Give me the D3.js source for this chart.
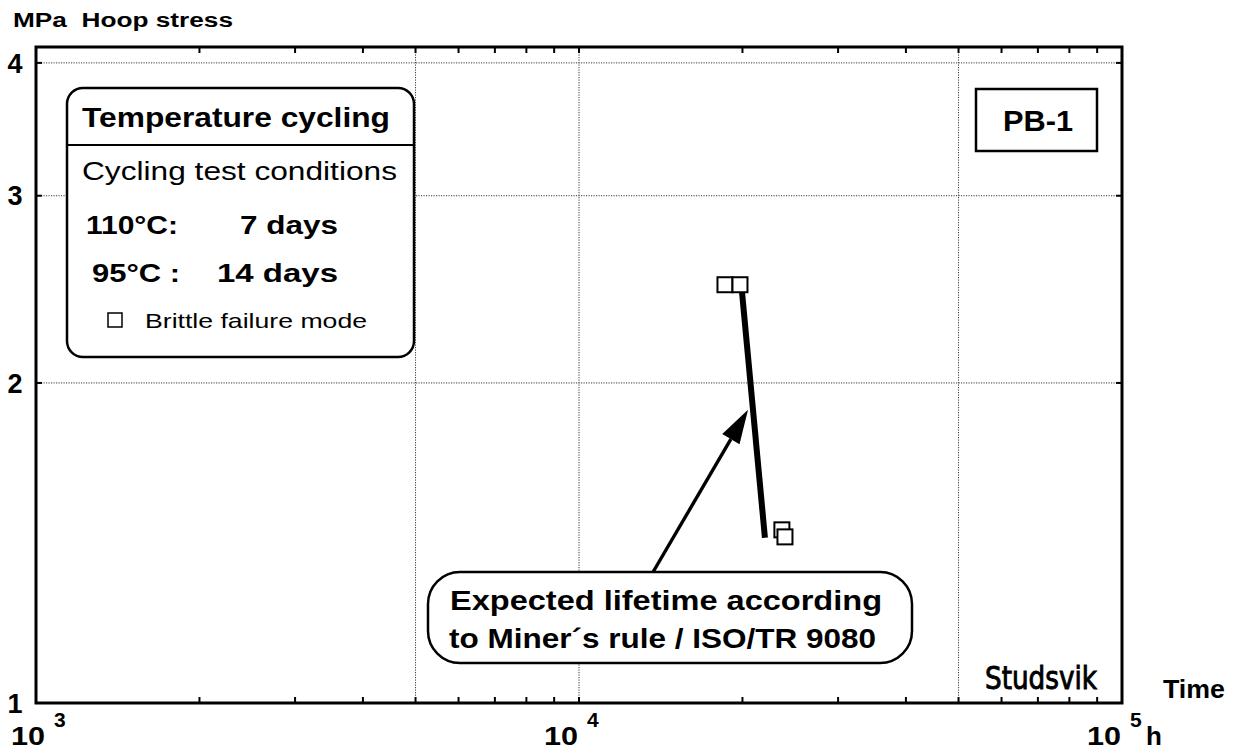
<!DOCTYPE html>
<html>
<head>
<meta charset="utf-8">
<script src="https://cdn.jsdelivr.net/npm/d3@7"></script>
<style>
  html, body { margin: 0; padding: 0; background: #fff; }
  svg { display: block; font-family: "Liberation Sans", Arial, sans-serif; }
</style>
</head>
<body>
<svg id="chart" width="1241" height="753"></svg>
<script>
// ---- Data -------------------------------------------------------------
// Brittle failures under temperature cycling (time in h, hoop stress in MPa)
const failureTimes    = [18570, 19790, 23640, 23950];
const failureStresses = [2.474, 2.474, 1.455, 1.433];

// Expected lifetime line (Miner's rule / ISO/TR 9080)
const lifetimeTimes    = [19960, 22000];
const lifetimeStresses = [2.436, 1.430];

// Arrow from the callout to the lifetime line
const arrowTimes    = [13690, 20480];
const arrowStresses = [1.328, 1.887];

// Axes
const yTickValues   = [1, 2, 3, 4];
const yTickLabels   = ["1", "2", "3", "4"];
const yGridValues   = [2, 3, 4];
const xDecades      = [1e3, 1e4, 1e5];
const xDecadeExps   = ["3", "4", "5"];
const xGridValues   = [5e3, 1e4, 5e4];
const xMinorTicks   = [2e3, 3e3, 4e3, 5e3, 6e3, 7e3, 8e3, 9e3, 1e4,
                       2e4, 3e4, 4e4, 5e4, 6e4, 7e4, 8e4, 9e4];

// ---- Setup ------------------------------------------------------------
const svg = d3.select("#chart");
const L = 36, R = 1122, T = 47, B = 703;

const x = d3.scaleLog().domain([1e3, 1e5]).range([L, R]);
const y = d3.scaleLog().domain([1, 4.14]).range([B, T]);

function txt(g, s, tx, ty, size, weight, len) {
  const t = g.append("text").attr("x", tx).attr("y", ty).attr("font-size", size)
    .attr("font-weight", weight).text(s);
  if (len) t.attr("textLength", len).attr("lengthAdjust", "spacingAndGlyphs");
  return t;
}

// Gridlines (dotted)
const grid = svg.append("g").attr("stroke", "#3a3a3a").attr("stroke-width", 1)
  .attr("stroke-dasharray", "1.2 1.3");
grid.selectAll("line.h").data(yGridValues).join("line")
  .attr("x1", L).attr("x2", R).attr("y1", d => y(d)).attr("y2", d => y(d));
grid.selectAll("line.v").data(xGridValues).join("line")
  .attr("x1", d => x(d)).attr("x2", d => x(d)).attr("y1", T).attr("y2", B);

// Inward ticks on all four sides
const ticks = svg.append("g").attr("stroke", "#000").attr("stroke-width", 2);
const tl = 6;
ticks.selectAll("line.xb").data(xMinorTicks).join("line")
  .attr("x1", d => x(d)).attr("x2", d => x(d)).attr("y1", B).attr("y2", B - tl);
ticks.selectAll("line.xt").data(xMinorTicks).join("line")
  .attr("x1", d => x(d)).attr("x2", d => x(d)).attr("y1", T).attr("y2", T + tl);
ticks.selectAll("line.yl").data(yGridValues).join("line")
  .attr("x1", L).attr("x2", L + tl).attr("y1", d => y(d)).attr("y2", d => y(d));
ticks.selectAll("line.yr").data(yGridValues).join("line")
  .attr("x1", R).attr("x2", R - tl).attr("y1", d => y(d)).attr("y2", d => y(d));

// Plot frame
svg.append("rect").attr("x", L).attr("y", T).attr("width", R - L).attr("height", B - T)
  .attr("fill", "none").attr("stroke", "#000").attr("stroke-width", 3);

// Y tick labels
svg.selectAll("text.ylab").data(yTickValues).join("text")
  .attr("x", 15).attr("y", d => Math.max(y(d), 53))
  .attr("dy", "0.36em").attr("text-anchor", "middle")
  .attr("font-size", 27).attr("font-weight", "bold")
  .text((d, i) => yTickLabels[i]);

// X tick labels: 10 with superscript exponent
xDecades.forEach((d, i) => {
  const cx = Math.max(x(d), 46);
  txt(svg, "10", cx - 35, 745, 26, "bold", 34);
  txt(svg, xDecadeExps[i], cx + 8, 727, 21, "bold");
});
txt(svg, "h", 1146, 745, 26, "bold");
txt(svg, "Time", 1163, 698, 25, "bold", 62);

// Y axis title
txt(svg, "MPa\u00A0 Hoop stress", 13, 27, 20, "bold", 220);

// Legend box
const lg = svg.append("g");
lg.append("rect").attr("x", 67).attr("y", 88).attr("width", 347).attr("height", 269)
  .attr("rx", 16).attr("fill", "#fff").attr("stroke", "#000").attr("stroke-width", 2.5);
lg.append("line").attr("x1", 67).attr("x2", 414).attr("y1", 145).attr("y2", 145)
  .attr("stroke", "#000").attr("stroke-width", 2);
txt(lg, "Temperature cycling", 82, 127, 28, "bold", 308);
txt(lg, "Cycling test conditions", 82, 180, 26, "normal", 315);
txt(lg, "110°C:", 86, 234, 26, "bold", 92);
txt(lg, "7 days", 240, 234, 26, "bold", 98);
txt(lg, "95°C :", 92, 282, 26, "bold", 88);
txt(lg, "14 days", 217, 282, 26, "bold", 121);
lg.append("rect").attr("x", 108).attr("y", 313).attr("width", 14).attr("height", 14)
  .attr("fill", "#fff").attr("stroke", "#000").attr("stroke-width", 1.5);
txt(lg, "Brittle failure mode", 145, 328, 21, "normal", 222);

// PB-1 box
svg.append("rect").attr("x", 976).attr("y", 89).attr("width", 121).attr("height", 62)
  .attr("fill", "#fff").attr("stroke", "#000").attr("stroke-width", 2.5);
txt(svg, "PB-1", 1003, 131, 30, "bold", 70);

// Studsvik mark
txt(svg, "Studsvik", 985, 689, 32, "bold", 112)
  .attr("font-family", "'Liberation Sans Narrow', 'DejaVu Sans Condensed', sans-serif")
  .attr("font-weight", "normal").attr("stroke", "#000").attr("stroke-width", 0.9);

// Expected lifetime line
svg.append("line")
  .attr("x1", x(lifetimeTimes[0])).attr("y1", y(lifetimeStresses[0]))
  .attr("x2", x(lifetimeTimes[1])).attr("y2", y(lifetimeStresses[1]))
  .attr("stroke", "#000").attr("stroke-width", 6);

// Failure points (open squares)
const sq = 15;
svg.selectAll("rect.pt").data(failureTimes).join("rect")
  .attr("x", d => x(d) - sq / 2)
  .attr("y", (d, i) => y(failureStresses[i]) - sq / 2)
  .attr("width", sq).attr("height", sq)
  .attr("fill", "#fff").attr("stroke", "#000").attr("stroke-width", 2);

// Arrow
const ax0 = x(arrowTimes[0]), ay0 = y(arrowStresses[0]);
const ax1 = x(arrowTimes[1]), ay1 = y(arrowStresses[1]);
const ang = Math.atan2(ay1 - ay0, ax1 - ax0);
const hl = 34, hw = 10;
const bx = ax1 - hl * Math.cos(ang), by = ay1 - hl * Math.sin(ang);
svg.append("line").attr("x1", ax0).attr("y1", ay0).attr("x2", bx).attr("y2", by)
  .attr("stroke", "#000").attr("stroke-width", 3.4);
svg.append("path")
  .attr("d", `M${ax1},${ay1} L${bx + hw * Math.sin(ang)},${by - hw * Math.cos(ang)} L${bx - hw * Math.sin(ang)},${by + hw * Math.cos(ang)} Z`)
  .attr("fill", "#000");

// Callout box
const cb = svg.append("g");
cb.append("rect").attr("x", 428).attr("y", 572).attr("width", 484).attr("height", 91)
  .attr("rx", 32).attr("fill", "#fff").attr("stroke", "#000").attr("stroke-width", 2.5);
txt(cb, "Expected lifetime according", 450, 610, 28, "bold", 432);
txt(cb, "to Miner´s rule / ISO/TR 9080", 449, 648, 28, "bold", 427);
</script>
</body>
</html>
